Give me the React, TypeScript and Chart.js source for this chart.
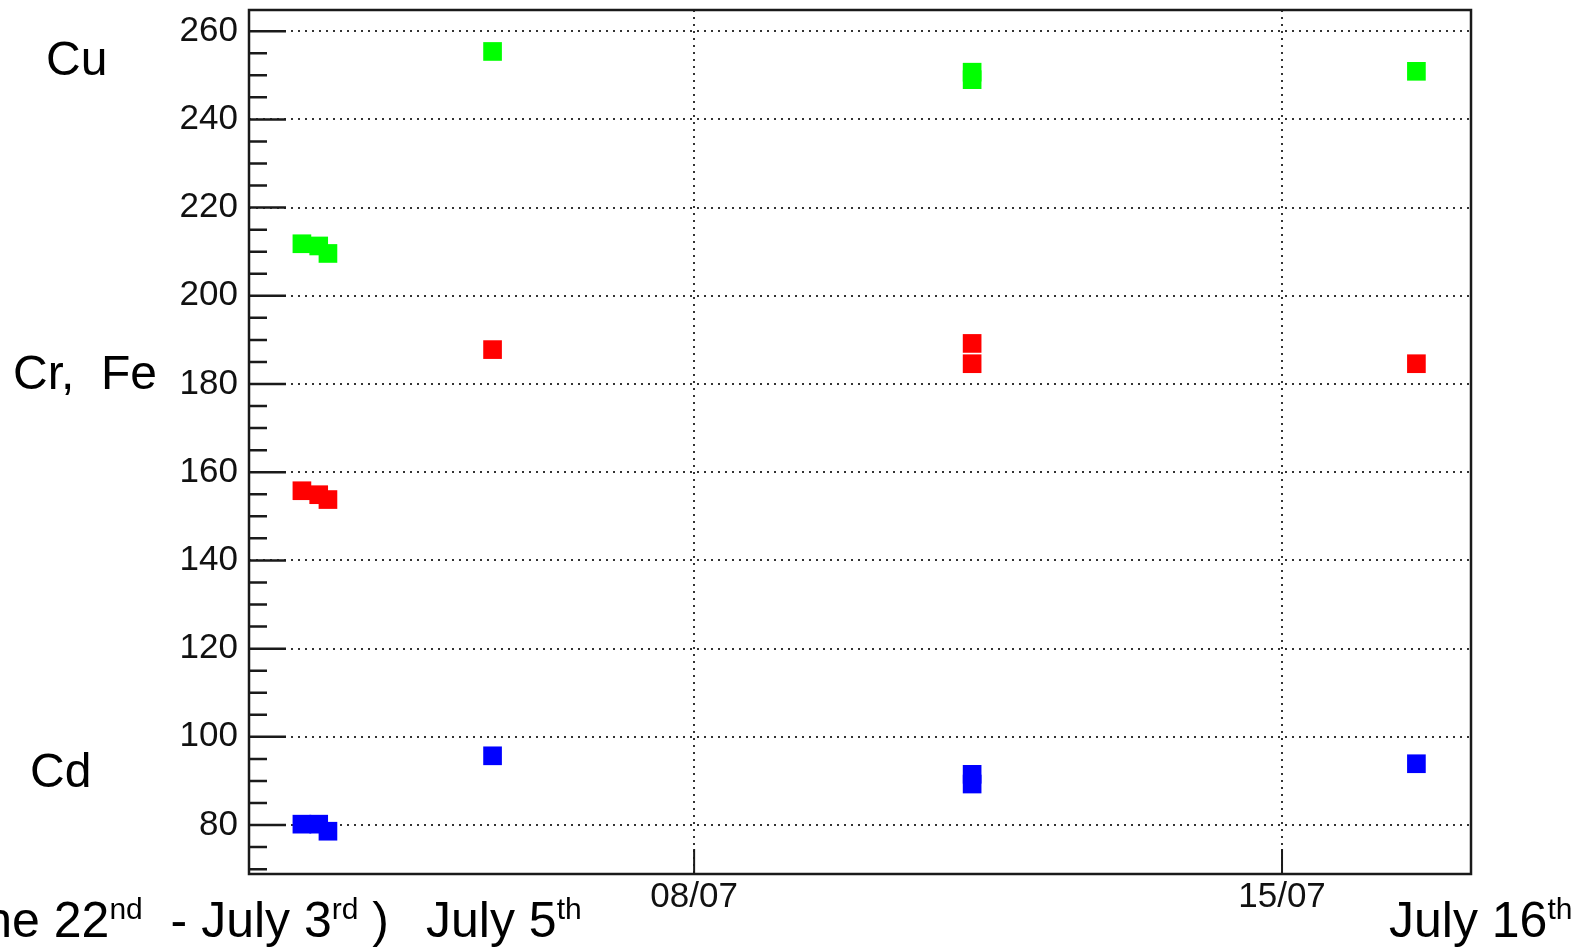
import React, { useEffect, useRef } from 'react';
import { Chart, registerables } from 'chart.js';

Chart.register(...registerables);

// Day of July for each measurement
const days = [3.33, 3.53, 3.64, 5.6, 11.31, 11.31, 16.6];
const cuValues = [211.8, 211.3, 209.6, 255.4, 250.7, 249.0, 250.9];
const crFeValues = [155.8, 154.9, 153.8, 187.8, 189.2, 184.6, 184.6];
const cdValues = [80.2, 80.2, 78.6, 95.7, 91.5, 89.3, 93.9];

const xTickValues = [8, 15];
const xTickLabels = ['08/07', '15/07'];
const yTickValues = [80, 100, 120, 140, 160, 180, 200, 220, 240, 260];
const yMinorTickValues = [70, 75, 85, 90, 95, 105, 110, 115, 125, 130, 135, 145, 150, 155, 165, 170, 175, 185, 190, 195, 205, 210, 215, 225, 230, 235, 245, 250, 255];

const FONT = '"Liberation Sans", Arial, Helvetica, sans-serif';

const framePlugin = {
  id: 'rootFrame',
  beforeDatasetsDraw(chart: any) {
    const { ctx, chartArea: a, scales } = chart;
    const ys = scales.y;
    const xs = scales.x;
    ctx.save();
    ctx.setLineDash([]);
    ctx.strokeStyle = '#1a1a1a';
    ctx.lineWidth = 2.5;
    ctx.beginPath();
    for (const v of yTickValues) {
      const py = ys.getPixelForValue(v);
      ctx.moveTo(a.left, py);
      ctx.lineTo(a.left + 37, py);
    }
    for (const v of yMinorTickValues) {
      const py = ys.getPixelForValue(v);
      ctx.moveTo(a.left, py);
      ctx.lineTo(a.left + 18, py);
    }
    ctx.stroke();
    ctx.lineWidth = 2;
    ctx.beginPath();
    for (const v of xTickValues) {
      const px = xs.getPixelForValue(v);
      ctx.moveTo(px, a.bottom);
      ctx.lineTo(px, a.bottom - 25);
    }
    ctx.stroke();
    ctx.lineWidth = 2.5;
    ctx.strokeRect(a.left, a.top, a.right - a.left, a.bottom - a.top);
    ctx.restore();
  },
};

function makeData(values: number[]) {
  return days.map((d, i) => ({ x: d, y: values[i] }));
}

export default function App() {
  const canvasRef = useRef<HTMLCanvasElement | null>(null);

  useEffect(() => {
    const canvas = canvasRef.current;
    if (!canvas) return;
    const pointCommon = {
      pointStyle: 'rect',
      pointRadius: 13.2,
      pointHoverRadius: 13.2,
      borderWidth: 0,
      showLine: false,
    };
    const chart = new Chart(canvas, {
      type: 'scatter',
      data: {
        datasets: [
          { label: 'Cu', data: makeData(cuValues), backgroundColor: '#00ff00', borderColor: '#00ff00', ...pointCommon },
          { label: 'Cr, Fe', data: makeData(crFeValues), backgroundColor: '#ff0000', borderColor: '#ff0000', ...pointCommon },
          { label: 'Cd', data: makeData(cdValues), backgroundColor: '#0000ff', borderColor: '#0000ff', ...pointCommon },
        ],
      } as any,
      options: {
        animation: false,
        responsive: false,
        maintainAspectRatio: false,
        layout: { autoPadding: false, padding: { top: 10, right: 109, left: 0, bottom: 0 } },
        plugins: { legend: { display: false }, tooltip: { enabled: false } },
        scales: {
          x: {
            type: 'linear',
            min: 2.7,
            max: 17.25,
            afterBuildTicks: (s: any) => {
              s.ticks = xTickValues.map((v) => ({ value: v }));
            },
            afterFit: (s: any) => {
              s.height = 73;
              s.paddingLeft = 0;
              s.paddingRight = 0;
            },
            grid: { color: '#333', lineWidth: 2, drawTicks: false },
            border: { display: false, dash: [2, 5] },
            ticks: {
              padding: 2,
              maxRotation: 0,
              autoSkip: false,
              color: '#111',
              font: { size: 35, family: FONT },
              callback: (v: any) => {
                const i = xTickValues.indexOf(Number(v));
                return i >= 0 ? xTickLabels[i] : '';
              },
            },
          },
          y: {
            type: 'linear',
            min: 68.9,
            max: 264.8,
            afterBuildTicks: (s: any) => {
              s.ticks = yTickValues.map((v) => ({ value: v }));
            },
            afterFit: (s: any) => {
              s.width = 249;
              s.paddingTop = 0;
              s.paddingBottom = 0;
            },
            grid: { color: '#333', lineWidth: 2, drawTicks: false },
            border: { display: false, dash: [2, 5] },
            ticks: {
              padding: 11,
              color: '#111',
              font: { size: 35, family: FONT },
            },
          },
        },
      } as any,
      plugins: [framePlugin],
    });
    return () => chart.destroy();
  }, []);

  const textBase: React.CSSProperties = {
    position: 'absolute',
    fontFamily: FONT,
    fontSize: 50,
    lineHeight: 1,
    color: '#000',
    whiteSpace: 'pre',
  };
  const sup: React.CSSProperties = { fontSize: 30, position: 'relative', top: -18 };

  return (
    <div style={{ position: 'absolute', left: 0, top: 0, width: 1580, height: 947, overflow: 'hidden', background: '#fff' }}>
      <canvas ref={canvasRef} width={1580} height={947} style={{ position: 'absolute', left: 0, top: 0, width: 1580, height: 947 }} />
      <div style={{ ...textBase, fontSize: 48, left: 46, top: 35 }}>Cu</div>
      <div style={{ ...textBase, fontSize: 48, left: 13, top: 349 }}>{'Cr,  Fe'}</div>
      <div style={{ ...textBase, fontSize: 48, left: 30, top: 747 }}>Cd</div>
      <div style={{ ...textBase, right: 1580 - 389, top: 895 }}>
        {'(June 22'}<span style={sup}>nd</span>{'  - July 3'}<span style={sup}>rd</span>{' )'}
      </div>
      <div style={{ ...textBase, left: 426, top: 895 }}>
        {'July 5'}<span style={sup}>th</span>
      </div>
      <div style={{ ...textBase, left: 1389, top: 895 }}>
        {'July 16'}<span style={sup}>th</span>
      </div>
    </div>
  );
}
